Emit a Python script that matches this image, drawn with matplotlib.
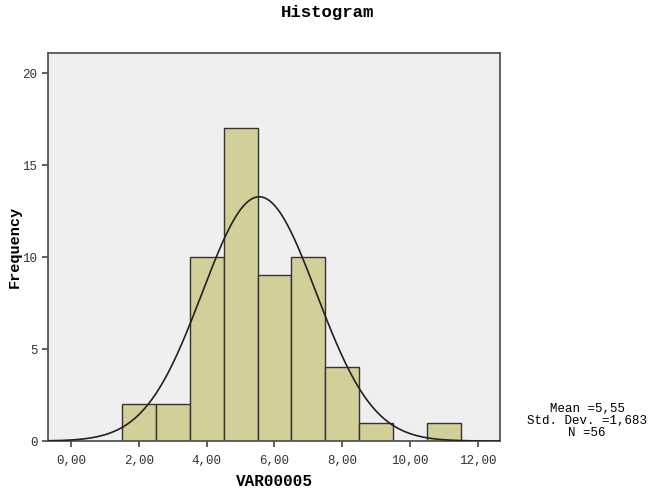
import numpy as np
import matplotlib.pyplot as plt

# bin edges and counts
bin_edges = [1.5, 2.5, 3.5, 4.5, 5.5, 6.5, 7.5, 8.5, 9.5, 10.5, 11.5]
counts = [2, 2, 10, 17, 9, 10, 4, 1, 0, 1]
mean, sd, n = 5.55, 1.683, 56
x_ticks = [0, 2, 4, 6, 8, 10, 12]
x_ticklabels = ['0,00', '2,00', '4,00', '6,00', '8,00', '10,00', '12,00']
y_ticks = [0, 5, 10, 15, 20]

plt.rcParams['font.family'] = ['Liberation Mono', 'DejaVu Sans Mono']

fig = plt.figure(figsize=(6.51, 4.95), dpi=100)
ax = fig.add_axes([0.0737, 0.109, 0.6943, 0.784])
ax.set_facecolor('#efefef')

widths = np.diff(bin_edges)
ax.bar(bin_edges[:-1], counts, width=widths, align='edge',
       color='#d3cf98', edgecolor='#333333', linewidth=1.0, zorder=2)

# normal curve from the stats in the footnote
xs = np.linspace(-0.7, 12.7, 400)
ys = n * 1.0 / (sd * np.sqrt(2 * np.pi)) * np.exp(-0.5 * ((xs - mean) / sd) ** 2)
ax.plot(xs, ys, color='#222222', linewidth=1.2, zorder=3)

ax.set_xlim(-0.68, 12.65)
ax.set_ylim(0, 21.09)
ax.set_xticks(x_ticks)
ax.set_xticklabels(x_ticklabels)
ax.set_yticks(y_ticks)
ax.tick_params(direction='out', length=4, width=1.2, color='#444444',
               labelsize=9, labelcolor='#333333')
ax.tick_params(axis='x', pad=6)
for s in ax.spines.values():
    s.set_color('#555555')
    s.set_linewidth(1.3)

ax.set_xlabel('VAR00005', fontsize=11.5, fontweight='bold', labelpad=5)
ax.set_ylabel('Frequency', fontsize=11, fontweight='bold')
ax.yaxis.set_label_coords(-0.059, 0.50)
fig.text(0.503, 0.975, 'Histogram', ha='center', va='center',
         fontsize=12.5, fontweight='bold')

fig.text(0.9017, 0.1495, 'Mean =5,55\nStd. Dev. =1,683\nN =56',
         ha='center', va='center', fontsize=9, linespacing=1.0)

fig.savefig('out.png', dpi=100)
